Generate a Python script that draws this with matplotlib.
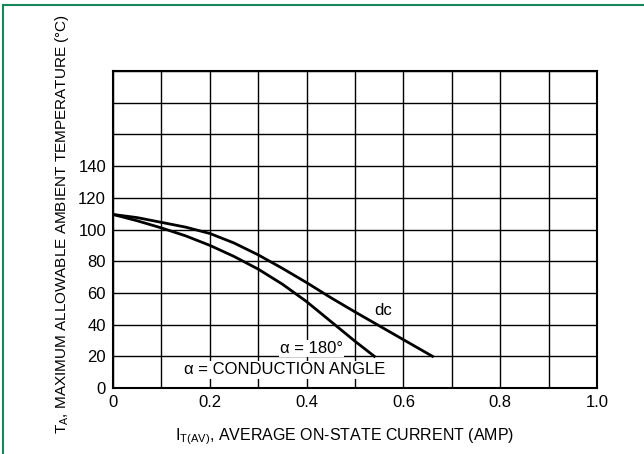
import matplotlib.pyplot as plt
from matplotlib.lines import Line2D

# curve data
dc_x = [0, 0.05, 0.1, 0.15, 0.2, 0.25, 0.3, 0.35, 0.4, 0.45, 0.5, 0.6, 0.66]
dc_y = [109.5, 107.5, 104.5, 101.5, 97.5, 91.5, 84, 75.5, 66.5, 57, 48, 30.5, 20]
a180_x = [0, 0.05, 0.1, 0.15, 0.2, 0.25, 0.3, 0.35, 0.4, 0.45, 0.5, 0.54]
a180_y = [109.5, 105.5, 101, 96, 90, 83, 75, 65.5, 54.5, 42, 29.5, 20]

xticks = [0, 0.2, 0.4, 0.6, 0.8, 1.0]
xticklabels = ["0", "0.2", "0.4", "0.6", "0.8", "1.0"]
yticks = [0, 20, 40, 60, 80, 100, 120, 140]
ylabel = "T$_{A}$, MAXIMUM ALLOWABLE AMBIENT TEMPERATURE (\u00b0C)"
xlabel = "I$_{T(AV)}$, AVERAGE ON-STATE CURRENT (AMP)"

plt.rcParams['font.family'] = ['Liberation Sans', 'DejaVu Sans']
plt.rcParams['mathtext.fontset'] = 'custom'
plt.rcParams['mathtext.rm'] = 'Liberation Sans'
plt.rcParams['mathtext.it'] = 'Liberation Sans'

fig = plt.figure(figsize=(6.44, 4.54), dpi=100)
ax = fig.add_axes([113 / 644, 1 - 388 / 454, 484 / 644, 317 / 454])

ax.set_xlim(0, 1.0)
ax.set_ylim(0, 200)
ax.set_xticks([i / 10 for i in range(11)])
ax.set_yticks(range(0, 201, 20))
ax.grid(True, color="black", linewidth=1.0)
ax.set_axisbelow(True)
ax.tick_params(length=0, labelsize=12, pad=5)
ax.set_xticklabels([xticklabels[i // 2] if i % 2 == 0 else "" for i in range(11)])
ax.set_yticklabels([str(v) if v in yticks else "" for v in range(0, 201, 20)])
for s in ax.spines.values():
    s.set_linewidth(1.5)

ax.plot(dc_x, dc_y, color="black", linewidth=2)
ax.plot(a180_x, a180_y, color="black", linewidth=2)

ax.text(0.558, 49, "dc", fontsize=12, ha="center", va="center")
ax.text(0.41, 25, "\u03b1 = 180\u00b0", fontsize=12, ha="center", va="center",
        bbox=dict(facecolor="white", edgecolor="none", pad=1))
ax.text(0.355, 11.5, "\u03b1 = CONDUCTION ANGLE", fontsize=12, ha="center", va="center",
        bbox=dict(facecolor="white", edgecolor="none", pad=1))

fig.text(62 / 644, 1 - 224 / 454, ylabel, rotation=90, fontsize=11,
         ha="center", va="center")
fig.text(345 / 644, 1 - 437 / 454, xlabel, fontsize=11.5, ha="center", va="center")

# teal frame on top and left
border = "#14885a"
fig.add_artist(Line2D([3 / 644, 1], [1 - 5 / 454, 1 - 5 / 454], color=border, linewidth=1.5))
fig.add_artist(Line2D([3 / 644, 3 / 644], [0, 1 - 5 / 454], color=border, linewidth=1.5))

fig.savefig("out.png", dpi=100)
